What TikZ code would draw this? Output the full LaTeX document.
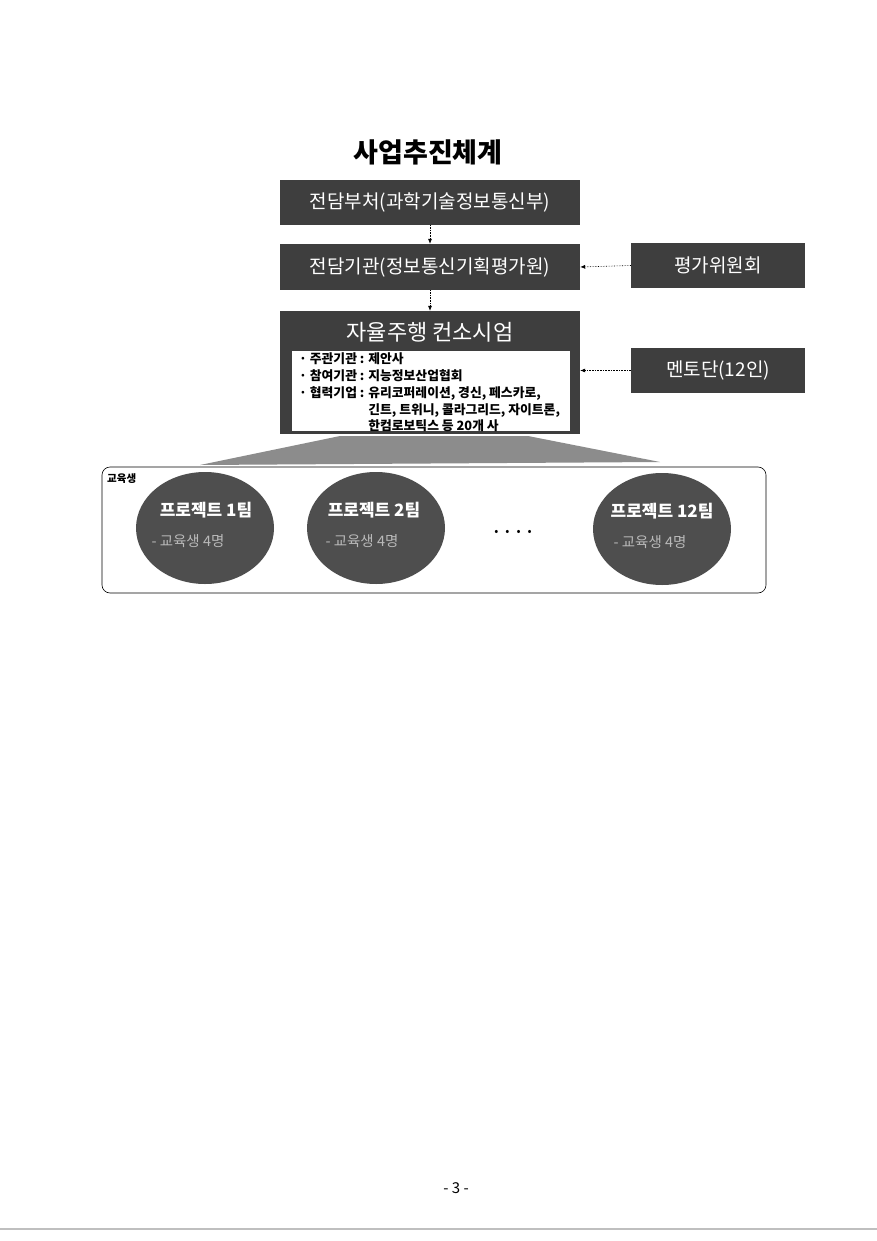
\documentclass[tikz,border=0pt]{standalone}
\usepackage{fontspec}
\setmainfont{Noto Sans CJK KR}
\usetikzlibrary{arrows.meta,shapes.geometric}
\definecolor{boxgray}{RGB}{62,62,62}
\definecolor{ellgray}{RGB}{78,78,78}
\definecolor{fangray}{RGB}{140,140,140}
\definecolor{subgray}{RGB}{185,185,185}
\begin{document}
\begin{tikzpicture}[x=1pt,y=-1pt,
  darkbox/.style={rectangle, fill=boxgray, text=white, minimum width=300pt, minimum height=45pt, inner sep=0pt, font=\fontsize{19}{22}\selectfont},
  sidebox/.style={darkbox, minimum width=174pt, font=\fontsize{19}{22}\selectfont},
  conn/.style={densely dotted, semithick, -{Latex[length=5pt,width=4pt]}},
  team/.style={ellipse, fill=ellgray, minimum width=138pt, minimum height=112pt, inner sep=0pt},
  teamtitle/.style={text=white, font=\bfseries\fontsize{17}{20}\selectfont, inner sep=0pt},
  teamsub/.style={text=subgray, font=\fontsize{14.5}{17}\selectfont, inner sep=0pt},
  listline/.style={anchor=base west, inner sep=0pt, font=\bfseries\fontsize{12.8}{16}\selectfont}
]
\useasboundingbox[fill=white] (0,0) rectangle (877,1241);

% title
\node[font=\bfseries\fontsize{27}{30}\selectfont, inner sep=0pt] (title) at (428,152) {사업추진체계};

% main chain
\node[darkbox] (b1) at (430,202.5) {전담부처(과학기술정보통신부)};
\node[darkbox, minimum height=46pt] (b2) at (430,267) {전담기관(정보통신기획평가원)};
\node[darkbox, minimum height=123pt] (b3) at (430,372.5) {};
\node[text=white, font=\fontsize{22}{24}\selectfont, inner sep=0pt] (b3t) at (430,332) {자율주행 컨소시엄};
\node[rectangle, fill=white, minimum width=278pt, minimum height=80pt, inner sep=0pt] (inner) at (431,390.5) {};
\node[listline] (l1) at (299,363) {· 주관기관 : 제안사};
\node[listline] (l2) at (299,380) {· 참여기관 : 지능정보산업협회};
\node[listline] (l3) at (299,397) {· 협력기업 : 유리코퍼레이션, 경신, 페스카로,};
\node[listline] (l4) at (299,414) {\phantom{· 협력기업 : }긴트, 트위니, 콜라그리드, 자이트론,};
\node[listline] (l5) at (299,430.5) {\phantom{· 협력기업 : }한컴로보틱스 등 20개 사};

% side boxes
\node[sidebox] (eval) at (718,265.5) {평가위원회};
\node[sidebox] (mentor) at (718,370.5) {멘토단(12인)};

% connectors
\draw[conn] (b1.south) -- (b2.north);
\draw[conn] (b2.south) -- (b3.north);
\draw[conn] (eval.west) -- (b2.east);
\draw[conn] (mentor.west) -- (b3.east |- mentor.west);

% fan
\coordinate (f1) at (340,436);
\coordinate (f2) at (528,436);
\coordinate (f3) at (660,462);
\coordinate (f4) at (200,465);
\fill[fangray] (f1) -- (f2) -- (f3) -- (f4) -- cycle;

% students frame
\draw[rounded corners=8pt, semithick, fill=white] (102,467) rectangle (766,593);
\node[anchor=west, font=\bfseries\fontsize{10.5}{12}\selectfont, inner sep=0pt] (lbl) at (107,479) {교육생};

% teams
\node[team] (t1) at (205,528) {};
\node[teamtitle] (t1a) at (206,510) {프로젝트 1팀};
\node[teamsub] (t1b) at (188,541) {- 교육생 4명};
\node[team] (t2) at (376,528) {};
\node[teamtitle] (t2a) at (374,510) {프로젝트 2팀};
\node[teamsub] (t2b) at (362,541) {- 교육생 4명};
\node[team] (t3) at (662,529) {};
\node[teamtitle] (t3a) at (662,511) {프로젝트 12팀};
\node[teamsub] (t3b) at (650,542) {- 교육생 4명};
\node[font=\fontsize{12}{14}\selectfont, inner sep=0pt] (dots) at (513,533) {•\hspace{7pt}•\hspace{7pt}•\hspace{7pt}•};

% page number
\node[font=\fontsize{15}{17}\selectfont, inner sep=0pt] (page) at (456,1188) {- 3 -};
\draw[black!25, line width=1.2pt] (0,1229) -- (877,1229);
\end{tikzpicture}
\end{document}
